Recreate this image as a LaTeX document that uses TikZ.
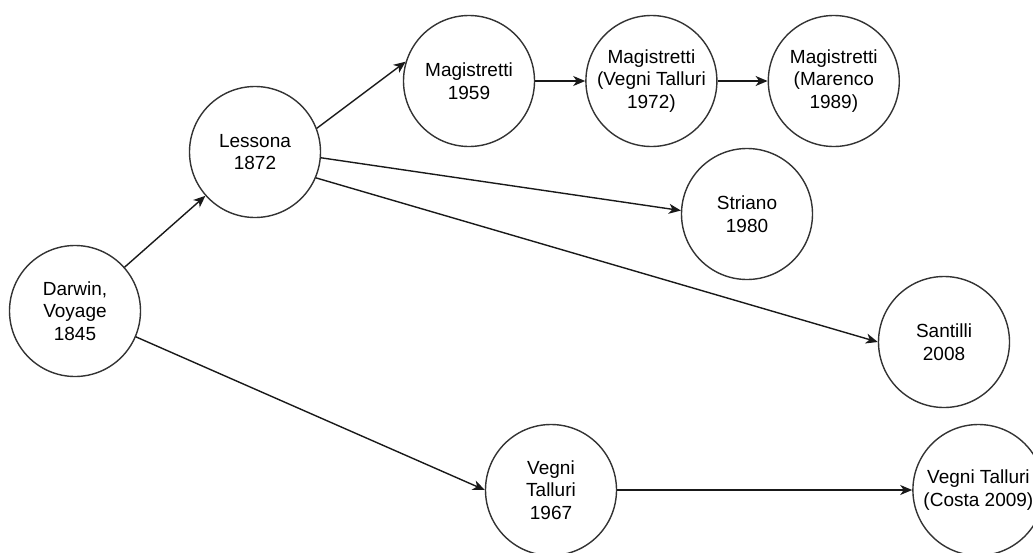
\documentclass[tikz,border=0pt]{standalone}
\usepackage{fontspec}
\setmainfont{Liberation Sans}
\usetikzlibrary{positioning,arrows.meta}

\begin{document}
\begin{tikzpicture}[x=1pt,y=-1pt,
    work/.style={circle, draw=black!80, line width=1.4pt, minimum size=131pt,
    inner sep=0pt, align=center, font=\fontsize{19}{22.5}\selectfont},
    link/.style={->, color=black!90, line width=1.4pt},
    >={Stealth[length=12pt,width=10pt,inset=3.5pt]}
]
  \useasboundingbox (0,0) rectangle (1033,552);
  \node[work] (darwin) at (75,311) {Darwin,\\Voyage\\1845};
  \node[work] (lessona) at (255,152) {Lessona\\1872};
  \node[work] (mag59) at (469,81) {Magistretti\\1959};
  \node[work, right=50pt of mag59] (mag72) {Magistretti\\(Vegni Talluri\\1972)};
  \node[work, right=50pt of mag72] (mag89) {Magistretti\\(Marenco\\1989)};
  \node[work] (striano) at (747,214) {Striano\\1980};
  \node[work] (santilli) at (944,342) {Santilli\\2008};
  \node[work] (vegni) at (551,490) {Vegni\\Talluri\\1967};
  \node[work, right=295pt of vegni] (costa) {Vegni Talluri\\(Costa 2009)};

  \path[link] (darwin) edge (lessona);
  \path[link] (darwin.-23) edge (vegni.west);
  \path[link] (lessona.21) edge (mag59.163);
  \path[link] (lessona.-5) edge (striano.177);
  \path[link] (lessona.-23) edge (santilli.west);
  \path[link] (mag59) edge (mag72);
  \path[link] (mag72) edge (mag89);
  \path[link] (vegni) edge (costa);
\end{tikzpicture}
\end{document}
